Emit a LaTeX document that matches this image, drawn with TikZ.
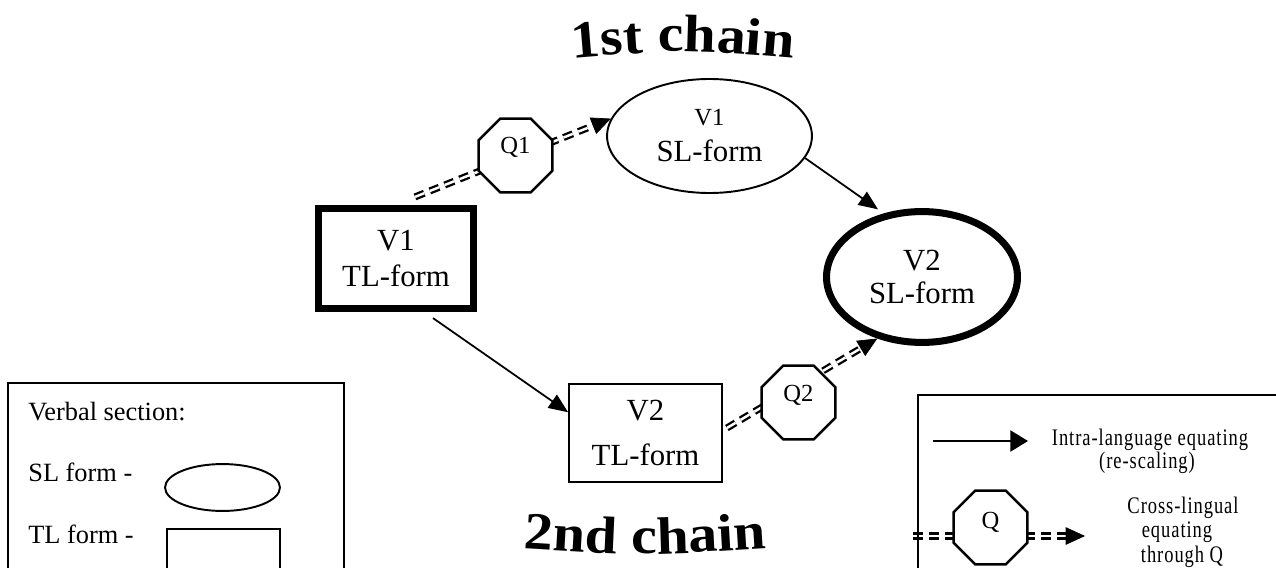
\documentclass[tikz,border=0pt]{standalone}
\usepackage{fontspec}
\setmainfont{Liberation Serif}
\newfontfamily\condfont{Liberation Serif}[FakeStretch=0.78,LetterSpace=4]
\newfontfamily\titlefont{Liberation Serif}[FakeStretch=1.1]
\usetikzlibrary{shapes.geometric,arrows.meta,calc,decorations.text}
\pgfdeclarelayer{bg}
\pgfsetlayers{bg,main}
\tikzset{
  tlbox/.style={draw, rectangle, fill=white, inner sep=0pt, align=center},
  slell/.style={draw, ellipse, fill=white, inner sep=0pt, align=center},
  qoct/.style={draw, regular polygon, regular polygon sides=8, minimum size=45.5pt,
    inner sep=0pt, fill=white, line width=1.4pt, font=\fontsize{14}{14}\selectfont, text height=9.3pt},
  intra/.style={line width=1pt, -{Triangle[length=11pt,width=9pt]}},
  cross/.style={double, double distance=1.4pt, line width=1.3pt, dash pattern=on 5.7pt off 3.4pt},
  crosstip/.style={line width=0.4pt, -{Triangle[length=11pt,width=10pt]}},
  legtext/.style={font=\fontsize{15}{18}\selectfont, anchor=base west, inner sep=0pt},
  keytext/.style={font=\condfont\fontsize{13.5}{16}\selectfont, anchor=base, inner sep=0pt},
}
\begin{document}
\begin{tikzpicture}[x=0.02cm, y=-0.02cm]
\useasboundingbox (0,0) rectangle (1276,568);
\clip (0,0) rectangle (1276,568);

% titles
\path[decorate, decoration={text along path, text align=center,
  text={|\titlefont\bfseries\fontsize{30}{30}\selectfont|1st chain}}]
  (563,59) .. controls (683,49) .. (803,59);
\path[decorate, decoration={text along path, text align=center,
  text={|\titlefont\bfseries\fontsize{30}{30}\selectfont|2nd chain}}]
  (517,548) .. controls (645,556) .. (773,548);

% main nodes
\node[tlbox, line width=4pt, minimum width=88pt, minimum height=57pt,
  font=\fontsize{17.5}{20.8}\selectfont] (v1tl) at (396,258.5) {V1\\TL-form};
\node[slell, line width=1.1pt, minimum width=116.6pt, minimum height=64.9pt,
  font=\fontsize{17.5}{20.5}\selectfont] (v1sl) at (709.5,136) {{\fontsize{14}{17}\selectfont V1}\\SL-form};
\node[slell, line width=4pt, minimum width=108.7pt, minimum height=74.5pt,
  font=\fontsize{17.5}{19.3}\selectfont] (v2sl) at (922,277) {V2\\SL-form};
\node[tlbox, line width=1.1pt, minimum width=87pt, minimum height=55.8pt,
  font=\fontsize{17.5}{25.6}\selectfont] (v2tl) at (645.5,433) {V2\\TL-form};

\node[qoct, text depth=11.4pt] (q1) at (515.5,155.5) {Q1};
\node[qoct, text depth=10.2pt] (q2) at (798.5,402.5) {Q2};

% connectors
\coordinate (d1s) at ($(v1tl.north)+(19,-8)$);
\coordinate (d2s) at ($(v2tl.east)+(4,-5)$);
\coordinate (d3s) at ($(v1tl.south)+(37,6)$);
\begin{pgfonlayer}{bg}
\draw[cross, shorten >=9pt] (d1s) -- (v1sl.170);
\draw[crosstip] ($(v1sl.170)!11pt!(d1s)$) -- (v1sl.170);
\draw[cross, shorten >=9pt] (d2s) -- (v2sl.234);
\draw[crosstip] ($(v2sl.234)!11pt!(d2s)$) -- (v2sl.234);
\end{pgfonlayer}
\draw[intra, shorten >=4pt] (v1sl.347) -- (v2sl.121);
\draw[intra] (d3s) -- (v2tl.165.5);

% left legend
\draw[line width=1pt] (8,383) rectangle (344,600);
\node[legtext] (lv) at (28,420) {Verbal section:};
\node[legtext] (lsl) at (28,481) {SL form -};
\node[legtext] (ltl) at (28,543) {TL form -};
\node[draw, ellipse, line width=1.1pt, minimum width=65.4pt, minimum height=26.7pt, inner sep=0pt] (kel) at (222.5,487.5) {};
\draw[line width=1.1pt] (167,529) rectangle (280,600);

% right legend
\draw[line width=1pt] (918,395) rectangle (1300,600);
\coordinate (ka) at (933,441);
\coordinate (kb) at (1028,441);
\draw[line width=1pt, -{Triangle[length=10pt,width=12pt]}] (ka) -- (kb);
\node[keytext] (k1) at (1150,445) {Intra-language equating};
\node[keytext] (k2) at (1147,468) {(re-scaling)};
\node[qoct, text depth=8pt] (qk) at (990.5,527.5) {Q};
\coordinate (kc) at (913,536);
\coordinate (kd) at (1085,536);
\begin{pgfonlayer}{bg}
\draw[cross, shorten >=9pt] (kc) -- (kd);
\draw[crosstip] ($(kd)!11pt!(kc)$) -- (kd);
\end{pgfonlayer}
\node[keytext] (k3) at (1183,513) {Cross-lingual};
\node[keytext] (k4) at (1177,537) {equating};
\node[keytext] (k5) at (1182,562) {through Q};
\end{tikzpicture}
\end{document}
